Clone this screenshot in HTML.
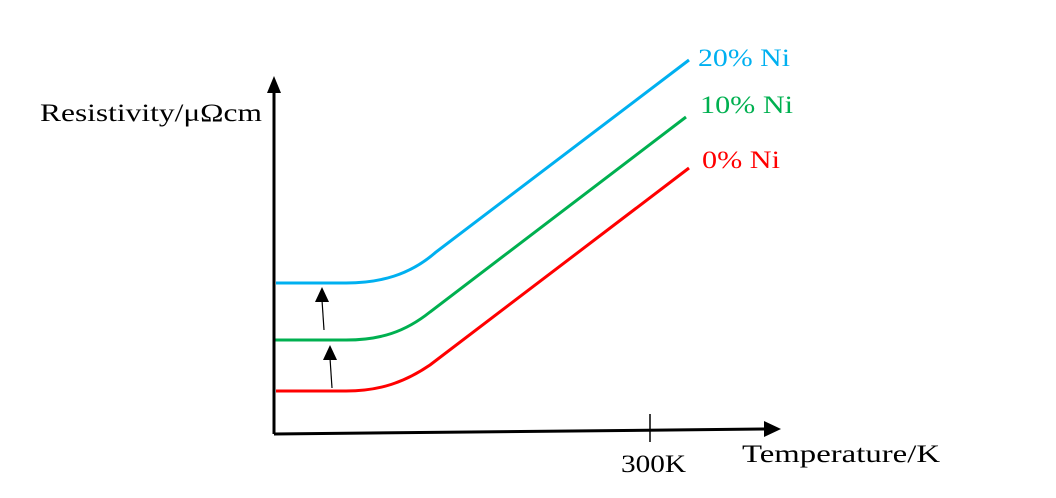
<!DOCTYPE html>
<html><head><style>html,body{margin:0;padding:0;background:#fff}svg{display:block}</style></head>
<body>
<svg width="1056" height="498" viewBox="0 0 1056 498" xmlns="http://www.w3.org/2000/svg" font-family="'Liberation Serif', serif" font-size="25">
<g fill="none" stroke-width="3">
<path d="M276,283 H346 C380,283 410,275 436,252 L689,60" stroke="#00b0f0"/>
<path d="M274,340 H346 C380,340 405,332 430,312 L686,117" stroke="#00b050"/>
<path d="M276,391 H346 C380,391 405,382 430,365 L689,168" stroke="#ff0000"/>
</g>
<g stroke="#000" stroke-width="3" fill="none">
<path d="M274,434 V90"/>
<path d="M274,434 L766,429"/>
</g>
<polygon points="274,76 267,93 281,93" fill="#000"/>
<polygon points="781,429 764,421 764,437" fill="#000"/>
<line x1="650" y1="414" x2="650" y2="442" stroke="#000" stroke-width="1.5"/>
<g stroke="#000" stroke-width="1.2">
<line x1="324" y1="330" x2="322" y2="300"/>
<line x1="332" y1="388" x2="330" y2="358"/>
</g>
<polygon points="322,287 315,302 329,302" fill="#000"/>
<polygon points="330,345 323,360 337,360" fill="#000"/>
<text x="40" y="121" fill="#000" textLength="222" lengthAdjust="spacingAndGlyphs">Resistivity/μΩcm</text>
<text x="621" y="472" fill="#000" textLength="65" lengthAdjust="spacingAndGlyphs">300K</text>
<text x="742" y="462" fill="#000" textLength="198" lengthAdjust="spacingAndGlyphs">Temperature/K</text>
<text x="698" y="66" fill="#00b0f0" textLength="92" lengthAdjust="spacingAndGlyphs">20% Ni</text>
<text x="700" y="113" fill="#00b050" textLength="93" lengthAdjust="spacingAndGlyphs">10% Ni</text>
<text x="702" y="168" fill="#ff0000" textLength="78" lengthAdjust="spacingAndGlyphs">0% Ni</text>
</svg>
</body></html>
